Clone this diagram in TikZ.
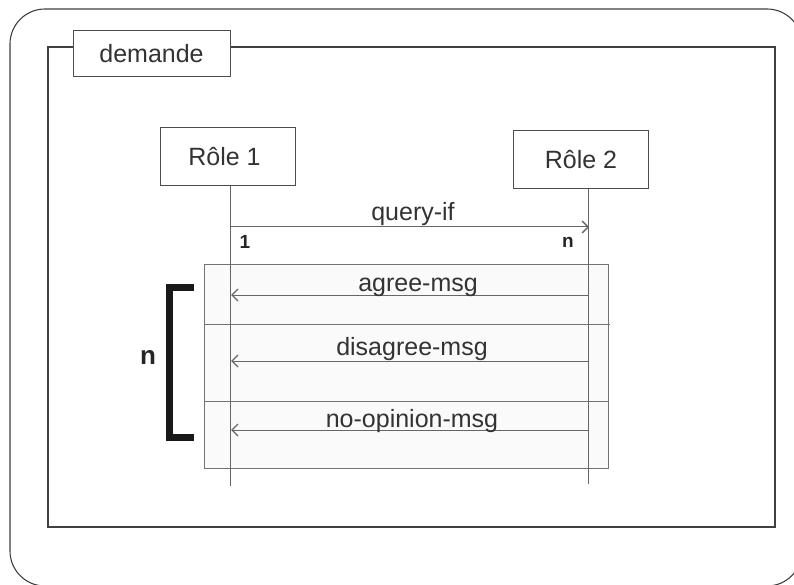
\documentclass[tikz,border=0pt]{standalone}
\usepackage{fontspec}
\setmainfont{Liberation Sans}
\usetikzlibrary{arrows.meta}
\begin{document}
\begin{tikzpicture}[x=1pt,y=-1pt,
 frameline/.style={draw=black!75, line width=1.1pt},
 rolebox/.style={draw=black!70, fill=white, line width=1pt, minimum width=135pt, minimum height=58pt, inner sep=0pt, font=\fontsize{25}{29}\selectfont, text=black!80},
 tabbox/.style={draw=black!70, fill=white, line width=1pt, minimum width=157pt, minimum height=46pt, inner sep=0pt, font=\fontsize{25}{29}\selectfont, text=black!80},
 msglabel/.style={font=\fontsize{25}{29}\selectfont, text=black!80, anchor=base, inner sep=0pt},
 msgarrow/.style={draw=black!60, line width=1pt, -{Straight Barb[length=6pt,width=12pt,line width=1.4pt]}},
 lifeline/.style={draw=black!60, line width=1pt},
 fragline/.style={draw=black!55, line width=1pt},
 mult/.style={font=\bfseries\fontsize{19}{22}\selectfont, text=black!85, inner sep=0pt},
 bigmult/.style={font=\bfseries\fontsize{26}{30}\selectfont, text=black!85, inner sep=0pt},
 bracket/.style={draw=black!90, line width=7pt, line cap=butt, line join=miter},
]
\useasboundingbox (0,0) rectangle (794,585);
\begin{scope}
\clip (0,0) rectangle (794,585);
\draw[frameline, rounded corners=35pt] (10,9) rectangle (802,586);
\end{scope}
% inner frame
\draw[frameline] (48,47) rectangle (775,527);
\node[tabbox] (tab) at (151.5,54) {demande};
% combined fragment
\path[fill=black!2] (204,264) rectangle (608,468);
\draw[fragline] (204,264) rectangle (608,468);
\coordinate (s1a) at (204,324);
\coordinate (s1b) at (610,324);
\coordinate (s2a) at (204,401);
\coordinate (s2b) at (608,401);
\draw[fragline] (s1a) -- (s1b);
\draw[fragline] (s2a) -- (s2b);
% roles
\node[rolebox] (r1) at (227.5,157) {Rôle 1\hspace*{6pt}};
\node[rolebox] (r2) at (581,159.5) {Rôle 2};
\coordinate (l1end) at (230,486);
\coordinate (l2end) at (588,484);
\draw[lifeline] (r1.south -| l1end) -- (l1end);
\draw[lifeline] (r2.south -| l2end) -- (l2end);
% messages
\coordinate (qa) at (230,227);
\coordinate (qb) at (589,227);
\draw[msgarrow] (qa) -- (qb);
\node[msglabel] (ql) at (413,221) {query-if};
\coordinate (aa) at (588,295);
\coordinate (ab) at (231,295);
\draw[msgarrow] (aa) -- (ab);
\node[msglabel] (al) at (418,291.5) {agree-msg};
\coordinate (da) at (588,361);
\coordinate (db) at (231,361);
\draw[msgarrow] (da) -- (db);
\node[msglabel] (dl) at (412,355) {disagree-msg};
\coordinate (na) at (588,430);
\coordinate (nb) at (231,430);
\draw[msgarrow] (na) -- (nb);
\node[msglabel] (nl) at (412,427.5) {no-opinion-msg};
% multiplicities
\node[mult] (m1) at (245,242) {1};
\node[mult] (mn) at (568,242) {n};
% bracket
\coordinate (b1) at (194,287.5);
\coordinate (b2) at (169.5,287.5);
\coordinate (b3) at (169.5,437);
\coordinate (b4) at (194,437);
\draw[bracket] (b1) -- (b2) -- (b3) -- (b4);
\node[bigmult] (bn) at (148,357) {n};
\end{tikzpicture}
\end{document}
